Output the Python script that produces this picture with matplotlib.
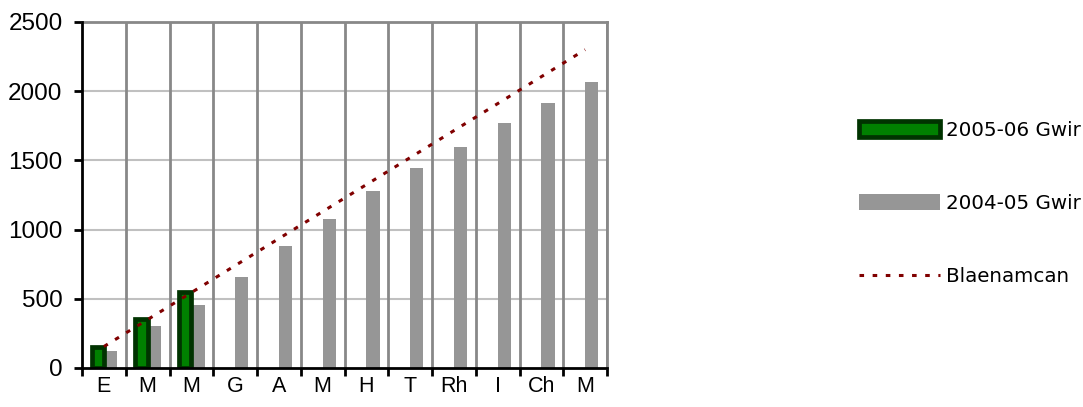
import matplotlib.pyplot as plt
import numpy as np
from matplotlib.patches import Patch
from matplotlib.lines import Line2D

months = ['E', 'M', 'M', 'G', 'A', 'M', 'H', 'T', 'Rh', 'I', 'Ch', 'M']
gwir_0506 = [150, 355, 550]
gwir_0405 = [125, 303, 457, 655, 880, 1077, 1280, 1445, 1597, 1770, 1915, 2066]
blaenamcan = [155, 350, 545, 740, 935, 1130, 1325, 1520, 1715, 1910, 2105, 2300]

fig = plt.figure(figsize=(10.83, 4.07), dpi=100)
ax = fig.add_axes([82 / 1083, 1 - 368 / 407, 525 / 1083, 346 / 407])

x = np.arange(len(months))

ax.bar(x[:len(gwir_0506)], gwir_0506, width=-0.28, align='edge',
       color='#008000', edgecolor='#003300', linewidth=3.4, zorder=4)
ax.bar(x, gwir_0405, width=0.3, align='edge', color='#969696', zorder=3)
ax.plot(x, blaenamcan, color='#800000', linestyle=(0, (1.5, 2.8)), linewidth=2.2, zorder=5)

ax.set_xlim(-0.5, len(months) - 0.5)
ax.set_ylim(0, 2500)

# grid
ax.set_yticks(np.arange(0, 2501, 500))
for yv in range(500, 2501, 500):
    ax.axhline(yv, color='#c0c0c0', linewidth=1.5, zorder=1)
for xb in np.arange(0.5, len(months), 1.0):
    ax.axvline(xb, color='#888888', linewidth=2, zorder=1)

ax.set_xticks(np.arange(-0.5, len(months), 1.0))
ax.set_xticklabels([])
ax.set_xticks(x, minor=True)
ax.set_xticklabels(months, minor=True, fontsize=15.5, family='Liberation Sans')
ax.tick_params(axis='x', which='minor', length=0, pad=6)
ax.tick_params(axis='x', which='major', length=6, width=2, direction='out')
ax.tick_params(axis='y', length=6, width=2, direction='out', labelsize=17.5, pad=8)
for lab in ax.get_yticklabels():
    lab.set_family('Liberation Sans')

for s in ['top', 'right']:
    ax.spines[s].set_color('#888888')
    ax.spines[s].set_linewidth(2)
for s in ['left', 'bottom']:
    ax.spines[s].set_linewidth(2)
    ax.spines[s].set_zorder(6)

handles = [
    Patch(facecolor='#008000', edgecolor='#003300', linewidth=3.4),
    Patch(facecolor='#969696', edgecolor='none'),
    Line2D([0], [0], color='#800000', linestyle=(0, (1.5, 2.8)), linewidth=2.2),
]
labels = ['2005-06 Gwir', '2004-05 Gwir', 'Blaenamcan']
fig.legend(handles, labels, loc='upper left', bbox_to_anchor=(859 / 1083, 1 - 121 / 407),
           frameon=False, prop={'family': 'DejaVu Sans', 'size': 14.3},
           handlelength=4.1, handleheight=0.85, labelspacing=2.72, handletextpad=0.3,
           borderpad=0, borderaxespad=0)

fig.savefig('out.png', dpi=100)
